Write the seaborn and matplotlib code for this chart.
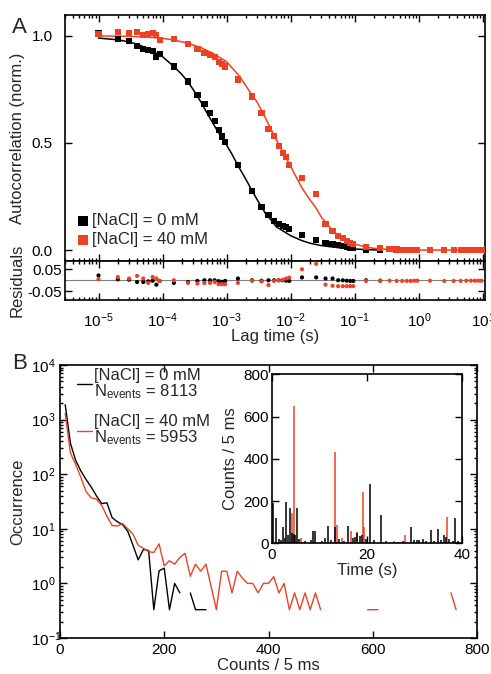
import numpy as np
import matplotlib
matplotlib.use("Agg")
import matplotlib.pyplot as plt
import seaborn as sns

nan = np.nan
RED = '#ec4125'
BLACK = 'black'

# Panel A: normalised autocorrelation, [NaCl] = 0 mM
lag_0mM = [1e-5, 2e-5, 3e-5, 4e-5, 5e-5, 6e-5, 7e-5, 8e-5, 9e-5,
           1.5e-4, 2.5e-4, 3.5e-4, 4.5e-4, 5.5e-4, 6.5e-4, 7.5e-4, 8.5e-4, 9.5e-4,
           1.5e-3, 2.5e-3, 3.5e-3, 4.5e-3, 5.5e-3, 6.5e-3, 7.5e-3, 8.5e-3, 9.5e-3,
           0.015, 0.025, 0.035, 0.045, 0.055, 0.065, 0.075, 0.085, 0.095,
           0.15, 0.25]
g_0mM = [1.012, 0.985, 0.975, 0.952, 0.94, 0.935, 0.928, 0.903, 0.914,
         0.857, 0.787, 0.724, 0.682, 0.639, 0.604, 0.56, 0.53, 0.503,
         0.397, 0.277, 0.2, 0.162, 0.136, 0.121, 0.112, 0.107, 0.097,
         0.07, 0.047, 0.034, 0.028, 0.022, 0.019, 0.015, 0.012, 0.008,
         0.003, 0.001]
res_0mM = [0.022, 0.004, 0.003, -0.008, -0.008, -0.005, -0.002, -0.02, -0.003,
           -0.012, -0.008, -0.003, 0.0, 0.0, 0.0, -0.004, -0.007, -0.003,
           0.008, 0.0, -0.002, 0.0, 0.0, 0.0, 0.0, -0.002, -0.003,
           0.013, 0.013, 0.008, 0.008, 0.0, 0.0, -0.002, -0.003, -0.003,
           0.0, -0.002]

# Panel A: [NaCl] = 40 mM
lag_40mM = [1e-5, 2e-5, 3e-5, 4e-5, 5e-5, 6e-5, 7e-5, 8e-5, 9e-5,
            1.5e-4, 2.5e-4, 3.5e-4, 4.5e-4, 5.5e-4, 6.5e-4, 7.5e-4, 8.5e-4, 9.5e-4,
            1.5e-3, 2.5e-3, 3.5e-3, 4.5e-3, 5.5e-3, 6.5e-3, 7.5e-3, 8.5e-3, 9.5e-3,
            0.015, 0.025, 0.035, 0.045, 0.055, 0.065, 0.075, 0.085, 0.095,
            0.15, 0.25, 0.35, 0.45, 0.55, 0.65, 0.75, 0.85, 0.95,
            1.5, 2.5, 3.5, 4.5, 5.5, 6.5, 7.5, 8.5, 9.5]
g_40mM = [1.01, 1.017, 1.012, 1.017, 1.005, 1.01, 1.014, 1.003, 0.98,
          0.984, 0.963, 0.938, 0.919, 0.911, 0.90, 0.88, 0.868, 0.857,
          0.797, 0.717, 0.639, 0.564, 0.533, 0.486, 0.452, 0.436, 0.397,
          0.335, 0.262, 0.121, 0.09, 0.065, 0.055, 0.044, 0.034, 0.028,
          0.016, 0.008, 0.005, 0.003, 0.002, 0.002, 0.001, 0.001, 0.001,
          0.001, 0.0, 0.0, 0.001, 0.0, 0.0, 0.0, 0.0, 0.0]
res_40mM = [0.005, 0.015, 0.008, 0.02, 0.008, -0.012, 0.015, 0.008, -0.003,
            0.0, -0.012, -0.015, -0.013, -0.012, -0.008, -0.018, -0.018, -0.018,
            -0.012, -0.002, -0.005, -0.022, -0.003, 0.0, 0.002, 0.008, 0.012,
            0.05, 0.075, -0.02, -0.025, -0.027, -0.027, -0.027, -0.027, -0.027,
            -0.003, -0.002, -0.002, -0.003, -0.003, -0.003, -0.003, -0.002, -0.002,
            -0.002, -0.003, -0.003, -0.003, -0.002, -0.002, -0.002, -0.002, -0.002]

# fitted curves
fit_t_0mM = [1e-5, 2e-5, 3e-5, 4e-5, 6e-5, 1e-4, 1.5e-4, 2e-4, 2.5e-4, 3e-4, 4e-4,
             5e-4, 6e-4, 7e-4, 8e-4, 1e-3, 1.2e-3, 1.5e-3, 2e-3, 2.5e-3, 3e-3,
             4e-3, 5e-3, 6e-3, 8e-3, 1e-2, 1.5e-2, 2e-2, 3e-2, 4e-2, 6e-2,
             0.1, 0.15, 0.25]
fit_g_0mM = [0.99, 0.982, 0.972, 0.962, 0.94, 0.903, 0.857, 0.82, 0.785, 0.75, 0.69,
             0.637, 0.597, 0.562, 0.535, 0.49, 0.45, 0.395, 0.33, 0.277, 0.235,
             0.173, 0.138, 0.108, 0.085, 0.067, 0.044, 0.032, 0.021, 0.016, 0.01,
             0.005, 0.002, 0.0]
fit_t_40mM = [1e-5, 3e-5, 6e-5, 1e-4, 1.5e-4, 2.5e-4, 4e-4, 6e-4, 1e-3, 1.6e-3,
              2.3e-3, 3e-3, 3.7e-3, 5e-3, 6e-3, 8e-3, 1e-2, 1.5e-2, 2e-2, 2.5e-2,
              3e-2, 4e-2, 5e-2, 6.3e-2, 8e-2, 0.1, 0.15, 0.2, 0.3, 0.5, 1.0, 10.0]
fit_g_40mM = [1.0, 0.998, 0.994, 0.989, 0.981, 0.966, 0.945, 0.92, 0.88, 0.81,
              0.74, 0.69, 0.64, 0.56, 0.514, 0.445, 0.39, 0.29, 0.235, 0.195,
              0.155, 0.109, 0.08, 0.055, 0.038, 0.028, 0.014, 0.008, 0.004, 0.001, 0.0, 0.0]

# Panel B: burst size histograms (counts per 5 ms bin)
count_bins = [10, 20, 30, 40, 50, 60, 70, 80, 90, 100,
              110, 120, 130, 140, 150, 160, 170, 180, 190, 200,
              210, 220, 230, 240, 250, 260, 270, 280, 290, 300,
              310, 320, 330, 340, 350, 360, 370, 380, 390, 400,
              410, 420, 430, 440, 450, 460, 470, 480, 490, 500,
              510, 520, 530, 540, 550, 560, 570, 580, 590, 600,
              610, 620, 630, 640, 650, 660, 670, 680, 690, 700,
              710, 720, 730, 740, 750, 760, 770, 780, 790, 800]
occ_0mM = [1870, 370, 180, 115, 80, 58, 40, 29, 30, 16,
           13.5, 12, 9, 5, 2.7, 4.2, 4.0, 0.33, 1.7, 1.9,
           0.33, 1.0, 0.67, nan, 0.67, 0.33, 0.33, 0.33] + [nan] * 52
occ_40mM = [1300, 245, 150, 88, 48, 37, 35, 27, 17, 11.5,
            11.3, 12.5, 10, 8, 5, 4.4, 3.8, 3.7, 5.3, 2.1,
            2.6, 2.25, 3.0, 3.55, 1.35, 2.25, 1.67, 2.25, 0.87, 0.33,
            1.67, 1.67, 0.67, 1.67, 1.25, 1.0, 1.0, 0.67, 1.0, 1.0,
            1.33, 0.67, 1.0, 0.33, 0.67, 0.33, 0.67, 0.33, 0.67, 0.33,
            nan, nan, nan, nan, nan, nan, nan, nan, 0.33, 0.33,
            0.33, nan, nan, nan, nan, nan, nan, nan, nan, nan,
            nan, nan, nan, nan, 0.67, 0.33, nan, nan, nan, nan]

# inset: time traces, spikes (time in s, counts / 5 ms)
trace_t_0mM = [0.3, 0.9, 1.5, 2.0, 2.4, 2.8, 3.1, 3.4, 3.8, 4.2,
               4.6, 4.9, 5.3, 5.8, 7.0, 8.2, 8.6, 9.1, 10.5, 11.1,
               11.8, 12.5, 13.3, 14.2, 15.2, 16.0, 17.0, 17.4, 18.0, 18.5,
               19.0, 19.8, 20.6, 21.5, 22.9, 24.0, 26.5, 27.5, 29.3, 30.0,
               30.5, 31.0, 31.9, 32.5, 33.5, 34.2, 34.9, 35.5, 36.2, 36.6,
               37.2, 38.0, 38.6, 39.2]
trace_c_0mM = [190, 118, 20, 15, 79, 25, 197, 40, 169, 50,
               45, 40, 166, 20, 10, 15, 58, 58, 10, 27,
               82, 15, 79, 20, 12, 84, 25, 32, 47, 35,
               40, 20, 281, 15, 134, 10, 8, 10, 79, 18,
               16, 15, 19, 12, 63, 10, 68, 15, 40, 32,
               20, 12, 118, 10]
trace_t_40mM = [4.3, 4.6, 6.1, 13.2, 13.7, 14.7, 16.6, 18.0, 19.2, 19.5, 25.6, 28.1, 36.8]
trace_c_40mM = [145, 648, 24, 430, 87, 24, 60, 55, 245, 79, 11, 40, 126]


def style_axis(ax):
    ax.tick_params(which='both', direction='in', top=True, right=True,
                   width=1.0, colors='black')
    ax.tick_params(which='major', length=5)
    ax.tick_params(which='minor', length=2.5)
    for s in ax.spines.values():
        s.set_linewidth(1.2)
        s.set_color('black')


def draw_panel_a(axA, axR):
    sns.lineplot(x=fit_t_0mM, y=fit_g_0mM, color=BLACK, lw=1.1, ax=axA)
    sns.lineplot(x=fit_t_40mM, y=fit_g_40mM, color=RED, lw=1.1, ax=axA)
    sns.scatterplot(x=lag_0mM, y=g_0mM, marker='s', s=20, color=BLACK,
                    edgecolor='none', ax=axA, label='[NaCl] = 0 mM', zorder=3)
    sns.scatterplot(x=lag_40mM, y=g_40mM, marker='s', s=20, color=RED,
                    edgecolor='none', ax=axA, label='[NaCl] = 40 mM', zorder=3)
    axA.set_xscale('log')
    axA.set_xlim(3e-6, 10.8)
    axA.set_ylim(-0.051, 1.098)
    axA.set_yticks([0.0, 0.5, 1.0])
    axA.set_yticklabels(['0.0', '0.5', '1.0'])
    axA.tick_params(axis='x', labelbottom=False)
    axA.tick_params(axis='y', pad=9)
    axA.set_ylabel('Autocorrelation (norm.)')
    axA.yaxis.set_label_coords(-0.095, 0.5)
    axA.set_xlabel('')
    axA.legend(loc='lower left', bbox_to_anchor=(0.031, 0.055), frameon=False,
               borderpad=0, borderaxespad=0, handlelength=0.6, handletextpad=0.25,
               labelspacing=0.25, markerscale=1.6)

    # residuals
    axR.axhline(0, color='#808080', lw=0.8, zorder=1)
    sns.scatterplot(x=lag_0mM, y=res_0mM, marker='o', s=9, color=BLACK,
                    edgecolor='none', ax=axR, zorder=3)
    sns.scatterplot(x=lag_40mM, y=res_40mM, marker='o', s=9, color=RED,
                    edgecolor='none', ax=axR, zorder=3)
    axR.set_xscale('log')
    axR.set_xlim(3e-6, 10.8)
    axR.set_ylim(-0.09, 0.088)
    axR.set_yticks([-0.05, 0.05])
    axR.set_yticklabels(['-0.05', '0.05'])
    axR.tick_params(axis='y', pad=2)
    axR.tick_params(axis='x', pad=8)
    axR.set_ylabel('Residuals')
    axR.yaxis.set_label_coords(-0.095, 0.5)
    axR.set_xlabel('Lag time (s)', va='top')
    axR.xaxis.set_label_coords(0.5, -0.74)


def draw_panel_b(axB, axI):
    axB.plot(count_bins, occ_0mM, color=BLACK, lw=1.0,
             label='[NaCl] = 0 mM\n$N_{\\mathrm{events}}$ = 8113')
    axB.plot(count_bins, occ_40mM, color=RED, lw=1.0,
             label='[NaCl] = 40 mM\n$N_{\\mathrm{events}}$ = 5953')
    axB.set_yscale('log')
    axB.set_xlim(0, 800)
    axB.set_ylim(0.1, 1e4)
    axB.set_xticks([0, 200, 400, 600, 800])
    axB.set_yticks([1e-1, 1e0, 1e1, 1e2, 1e3, 1e4])
    axB.tick_params(axis='y', pad=21)
    plt.setp(axB.get_yticklabels(), ha='left')
    axB.set_ylabel('Occurrence')
    axB.yaxis.set_label_coords(-0.084, 0.5)
    axB.set_xlabel('Counts / 5 ms', va='top')
    axB.xaxis.set_label_coords(0.5, -0.073)
    leg = axB.legend(loc='upper left', bbox_to_anchor=(0.041, 0.99), frameon=False,
                     borderpad=0, borderaxespad=0, handlelength=0.9,
                     handletextpad=0.1, labelspacing=0.8)
    for t in leg.get_texts():
        t.set_linespacing(0.95)

    # inset time trace
    axI.set_facecolor('white')
    axI.vlines(trace_t_40mM, 0, trace_c_40mM, color=RED, lw=1.1)
    axI.vlines(trace_t_0mM, 0, trace_c_0mM, color=BLACK, lw=1.1)
    axI.set_xlim(0, 40)
    axI.set_ylim(0, 800)
    axI.set_xticks([0, 20, 40])
    axI.set_yticks([0, 200, 400, 600, 800])
    axI.tick_params(axis='y', pad=2)
    axI.set_ylabel('Counts / 5 ms')
    axI.yaxis.set_label_coords(-0.177, 0.5)
    axI.set_xlabel('Time (s)', va='top')
    axI.xaxis.set_label_coords(0.5, -0.117)


def main():
    sns.set_theme(style='ticks')
    plt.rcParams['font.family'] = ['Liberation Sans', 'DejaVu Sans']
    plt.rcParams['mathtext.fontset'] = 'custom'
    plt.rcParams['mathtext.rm'] = 'Liberation Sans'
    plt.rcParams['mathtext.it'] = 'Liberation Sans:italic'
    plt.rcParams['mathtext.bf'] = 'Liberation Sans:bold'
    plt.rcParams['mathtext.default'] = 'regular'
    plt.rcParams['axes.unicode_minus'] = False
    plt.rcParams['axes.labelsize'] = 12
    plt.rcParams['xtick.labelsize'] = 11
    plt.rcParams['ytick.labelsize'] = 11
    plt.rcParams['legend.fontsize'] = 12

    fig = plt.figure(figsize=(4.91, 6.74), dpi=100)
    axA = fig.add_axes([0.1324, 0.6128, 0.8554, 0.365])
    axR = fig.add_axes([0.1324, 0.5549, 0.8554, 0.0579])
    axB = fig.add_axes([0.1222, 0.0534, 0.8493, 0.405])
    axI = fig.add_axes([0.5534, 0.1939, 0.3876, 0.2507])

    draw_panel_a(axA, axR)
    draw_panel_b(axB, axI)
    for ax in (axA, axR, axB, axI):
        style_axis(ax)

    fig.text(0.024, 0.975, 'A', fontsize=16, va='top', ha='left')
    fig.text(0.024, 0.476, 'B', fontsize=16, va='top', ha='left')

    fig.savefig('out.png', dpi=100)


if __name__ == "__main__":
    main()
